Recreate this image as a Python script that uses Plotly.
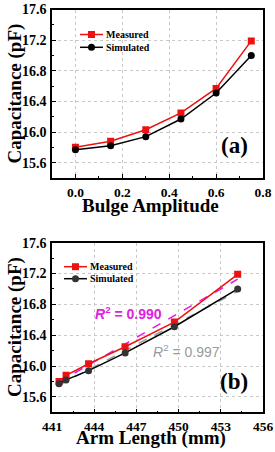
import numpy as np
import plotly.graph_objects as go

# ---- data ----
bulge_amplitude = [0.0, 0.15, 0.30, 0.45, 0.60, 0.75]
arm_length = [441.5, 442.0, 443.6, 446.2, 449.7, 454.2]
measured = [15.80, 15.88, 16.03, 16.25, 16.57, 17.19]
simulated = [15.77, 15.82, 15.94, 16.17, 16.51, 17.00]
series_names = ["Measured", "Simulated"]
r2_measured_label = "0.990"
r2_simulated_label = "0.997"

W, H = 275, 452
RED = "#ee1111"
BLACK = "#000000"
DARK = "#333333"
MAGENTA = "#e020e0"
GRAY = "#9a9a9a"
SERIF = "Liberation Serif"
SANS = "Liberation Sans"


def px(x):
    return x / W


def py(y):
    return 1 - y / H


fig = go.Figure()

# top panel
fig.add_trace(go.Scatter(x=bulge_amplitude, y=measured, name=series_names[0], mode="lines+markers",
                         line=dict(color=RED, width=1.5), marker=dict(symbol="square", size=7, color=RED),
                         xaxis="x", yaxis="y", showlegend=False))
fig.add_trace(go.Scatter(x=bulge_amplitude, y=simulated, name=series_names[1], mode="lines+markers",
                         line=dict(color=BLACK, width=1.5), marker=dict(symbol="circle", size=7, color=BLACK),
                         xaxis="x", yaxis="y", showlegend=False))

# bottom panel: linear fits
xa = np.array(arm_length)
for ys, col in [(measured, MAGENTA), (simulated, GRAY)]:
    k, b = np.polyfit(xa, np.array(ys), 1)
    xs = np.array([xa.min(), xa.max()])
    fig.add_trace(go.Scatter(x=xs, y=k * xs + b, mode="lines", showlegend=False,
                             line=dict(color=col, width=1.5, dash="dash"),
                             xaxis="x2", yaxis="y2", hoverinfo="skip"))

fig.add_trace(go.Scatter(x=arm_length, y=measured, name=series_names[0], mode="lines+markers",
                         line=dict(color=RED, width=1.5), marker=dict(symbol="square", size=7, color=RED),
                         xaxis="x2", yaxis="y2", showlegend=False))
fig.add_trace(go.Scatter(x=arm_length, y=simulated, name=series_names[1], mode="lines+markers",
                         line=dict(color=BLACK, width=1.5), marker=dict(symbol="circle", size=7, color=DARK),
                         xaxis="x2", yaxis="y2", showlegend=False))

ytickfont = dict(family=SERIF, size=14, color="black", weight="bold")
xtickfont = dict(family=SERIF, size=13.5, color="black", weight="bold")
common = dict(showline=True, mirror=True, linecolor="black", linewidth=1.5,
              ticks="inside", ticklen=4, tickwidth=1.2, tickcolor="black",
              showgrid=True, gridcolor="#c8c8c8", griddash="dot", gridwidth=1,
              zeroline=False, automargin=False, ticklabelstandoff=1,
              ticklabeloverflow="allow")

xdom = [px(52), px(263)]
fig.update_layout(
    width=W, height=H,
    margin=dict(l=0, r=0, t=0, b=0, pad=0),
    paper_bgcolor="white", plot_bgcolor="white",
    showlegend=False,
    xaxis=dict(domain=xdom, range=[-0.1, 0.8], dtick=0.2, tickformat=".1f", tickfont=xtickfont,
               minor=dict(dtick=0.1, ticks="inside", ticklen=2, tickcolor="black", showgrid=False),
               anchor="y", **common),
    yaxis=dict(domain=[py(178), py(9.5)], range=[15.4, 17.6], dtick=0.4, tickformat=".1f", tickfont=ytickfont,
               minor=dict(dtick=0.2, ticks="inside", ticklen=2, tickcolor="black", showgrid=False),
               anchor="x", **common),
    xaxis2=dict(domain=xdom, range=[441, 456], dtick=3, tickfont=xtickfont,
                minor=dict(dtick=1.5, ticks="inside", ticklen=2, tickcolor="black", showgrid=False),
                anchor="y2", **common),
    yaxis2=dict(domain=[py(412.3), py(242.7)], range=[15.4, 17.6], dtick=0.4, tickformat=".1f", tickfont=ytickfont,
                minor=dict(dtick=0.2, ticks="inside", ticklen=2, tickcolor="black", showgrid=False),
                anchor="x2", **common),
)

# ---- legends drawn as key shapes + labels (pixel positions) ----
shapes = []
leg_annots = []
legend_specs = [
    (80, 103, [34.5, 47.3]),
    (64, 87, [266.7, 278.7]),
]
marker_colors = [[RED, BLACK], [RED, DARK]]
line_colors = [RED, BLACK]
marker_types = ["rect", "circle"]
for (x0, x1, rows), mcols in zip(legend_specs, marker_colors):
    for i, yrow in enumerate(rows):
        shapes.append(dict(type="line", xref="paper", yref="paper",
                           x0=px(x0), x1=px(x1), y0=py(yrow), y1=py(yrow),
                           line=dict(color=line_colors[i], width=1.5)))
        xm = (x0 + x1) / 2
        shapes.append(dict(type=marker_types[i], xref="paper", yref="paper",
                           xsizemode="pixel", ysizemode="pixel",
                           xanchor=px(xm), yanchor=py(yrow),
                           x0=-3.5, x1=3.5, y0=-3.5, y1=3.5,
                           fillcolor=mcols[i], line=dict(width=0)))
        leg_annots.append(dict(text=series_names[i], x=px(x1 + 1), y=py(yrow),
                               xanchor="left", yanchor="middle",
                               font=dict(family=SERIF, size=10, color="black", weight="bold")))

title_font = dict(family=SERIF, size=19, color="black", weight="bold")
annotations = [
    dict(text="Capacitance (pF)", x=px(15), y=py(93.5), textangle=-90, font=title_font),
    dict(text="Bulge Amplitude", x=px(150), y=py(205), font=title_font),
    dict(text="Capacitance (pF)", x=px(15), y=py(327), textangle=-90, font=title_font),
    dict(text="Arm Length (mm)", x=px(151), y=py(438), font=title_font),
    dict(text="(a)", x=px(234.5), y=py(145), font=dict(family=SERIF, size=23, color="black", weight="bold")),
    dict(text="(b)", x=px(233.5), y=py(381), font=dict(family=SERIF, size=23, color="black", weight="bold")),
    dict(text="<i>R</i><sup>2</sup> = " + r2_measured_label, x=px(128), y=py(312.5),
         font=dict(family=SANS, size=14, color=MAGENTA, weight="bold")),
    dict(text="<i>R</i><sup>2</sup> = " + r2_simulated_label, x=px(186), y=py(351),
         font=dict(family=SANS, size=14, color=GRAY)),
]
for a in annotations:
    a.update(xanchor="center", yanchor="middle")
annotations += leg_annots
for a in annotations:
    a.update(xref="paper", yref="paper", showarrow=False)
fig.update_layout(annotations=annotations, shapes=shapes)

# remove the browser's default 8px body margin so the 275x452 figure fills the window
fig.write_html("out.html",
               config={"displayModeBar": False},
               post_script="document.body.style.margin='0';document.body.style.padding='0';"
                           "document.body.style.overflow='hidden';")
